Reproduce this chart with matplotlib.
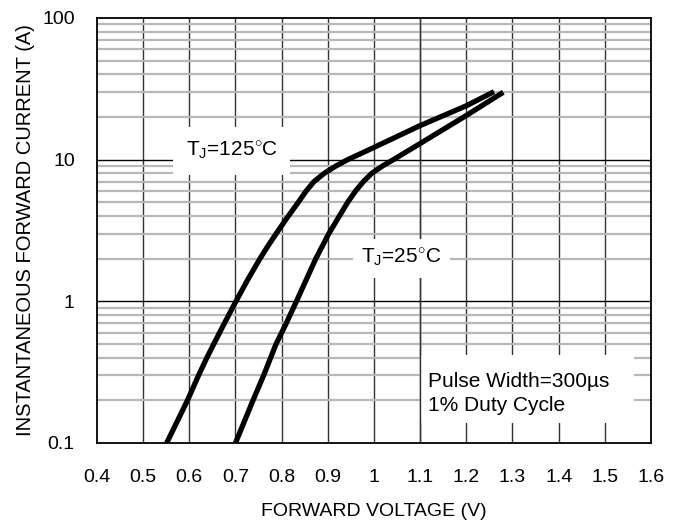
import numpy as np
import matplotlib
matplotlib.use('Agg')
import matplotlib.pyplot as plt
from matplotlib.patches import Rectangle

plt.rcParams['font.family'] = ['Liberation Sans', 'DejaVu Sans']
plt.rcParams['mathtext.fontset'] = 'custom'
plt.rcParams['mathtext.rm'] = 'Liberation Sans'
plt.rcParams['mathtext.it'] = 'Liberation Sans'

# Curves (forward voltage V, current A)
v_125 = [0.551, 0.596, 0.620, 0.638, 0.653, 0.676, 0.701, 0.727, 0.753, 0.770, 0.788, 0.812,
         0.836, 0.853, 0.870, 0.892, 0.917, 0.943, 1.0, 1.1, 1.2, 1.26]
i_125 = [0.1, 0.2, 0.3, 0.4, 0.5, 0.7, 1.0, 1.43, 2.0, 2.45, 3.0, 3.9,
         5.0, 6.0, 7.0, 8.0, 9.0, 10.0, 12.2, 17.4, 24.0, 30.2]

v_25 = [0.700, 0.738, 0.761, 0.788, 0.810, 0.832, 0.874, 0.902, 0.925, 0.943, 0.960,
        0.977, 0.995, 1.018, 1.042, 1.1, 1.2, 1.28]
i_25 = [0.1, 0.2, 0.3, 0.5, 0.7, 1.0, 2.0, 3.0, 4.0, 5.0, 6.0,
        7.0, 8.0, 9.0, 10.0, 13.0, 20.5, 29.9]

x_ticks = [0.4, 0.5, 0.6, 0.7, 0.8, 0.9, 1, 1.1, 1.2, 1.3, 1.4, 1.5, 1.6]
x_labels = ['0.4', '0.5', '0.6', '0.7', '0.8', '0.9', '1', '1.1', '1.2', '1.3', '1.4', '1.5', '1.6']
y_ticks = [0.1, 1, 10, 100]
y_labels = ['0.1', '1', '10', '100']

fig = plt.figure(figsize=(6.82, 5.26), dpi=100)
ax = fig.add_axes([0.1422, 0.1578, 0.8123, 0.808])

ax.set_xlim(0.4, 1.6)
ax.set_yscale('log')
ax.set_ylim(0.1, 100)

# Grid drawn by hand so the label boxes can sit on top of it
for x in x_ticks[1:-1]:
    ax.axvline(x, color='#333333', lw=1.0, zorder=1)
for dec in [0.1, 1, 10]:
    for m in range(2, 10):
        ax.axhline(dec * m, color='#b8b8b8', lw=1.6, zorder=1)
for y in [1, 10]:
    ax.axhline(y, color='black', lw=1.0, zorder=1.2)

ax.plot(v_125, i_125, color='black', lw=3.8, solid_capstyle='butt', solid_joinstyle='round', zorder=5)
ax.plot(v_25, i_25, color='black', lw=3.8, solid_capstyle='butt', solid_joinstyle='round', zorder=5)

ax.text(0.692, 11.5, r'T$_\mathregular{J}$=125$^{\circ}$C', fontsize=15, ha='center', va='center',
        zorder=4, bbox=dict(boxstyle='square,pad=0.6', fc='white', ec='none'))
ax.text(1.06, 2.02, r'T$_\mathregular{J}$=25$^{\circ}$C', fontsize=15, ha='center', va='center',
        zorder=4, bbox=dict(boxstyle='square,pad=0.4', fc='white', ec='none'))

ax.add_patch(Rectangle((1.1, 0.138), 0.464, 0.418 - 0.138, fc='white', ec='none', zorder=3))
ax.axvline(1.1, ymin=0, ymax=1, color='#333333', lw=1.0, zorder=3.5)
ax.text(1.116, 0.2234, 'Pulse Width=300µs\n1% Duty Cycle', fontsize=15, ha='left', va='center',
        linespacing=1.3, zorder=4)

ax.set_xticks(x_ticks)
ax.set_xticklabels(x_labels)
ax.set_yticks(y_ticks)
ax.set_yticklabels(y_labels)
ax.minorticks_off()
ax.yaxis.set_minor_locator(matplotlib.ticker.NullLocator())
ax.tick_params(length=0, labelsize=14, pad=16)
ax.tick_params(axis='x', pad=19)

for s in ax.spines.values():
    s.set_linewidth(1.3)
    s.set_zorder(6)

ax.set_xlabel('FORWARD VOLTAGE (V)', fontsize=14, labelpad=12)
ax.set_ylabel('INSTANTANEOUS FORWARD CURRENT (A)', fontsize=14.5, labelpad=5)

fig.savefig('out.png', dpi=100)
